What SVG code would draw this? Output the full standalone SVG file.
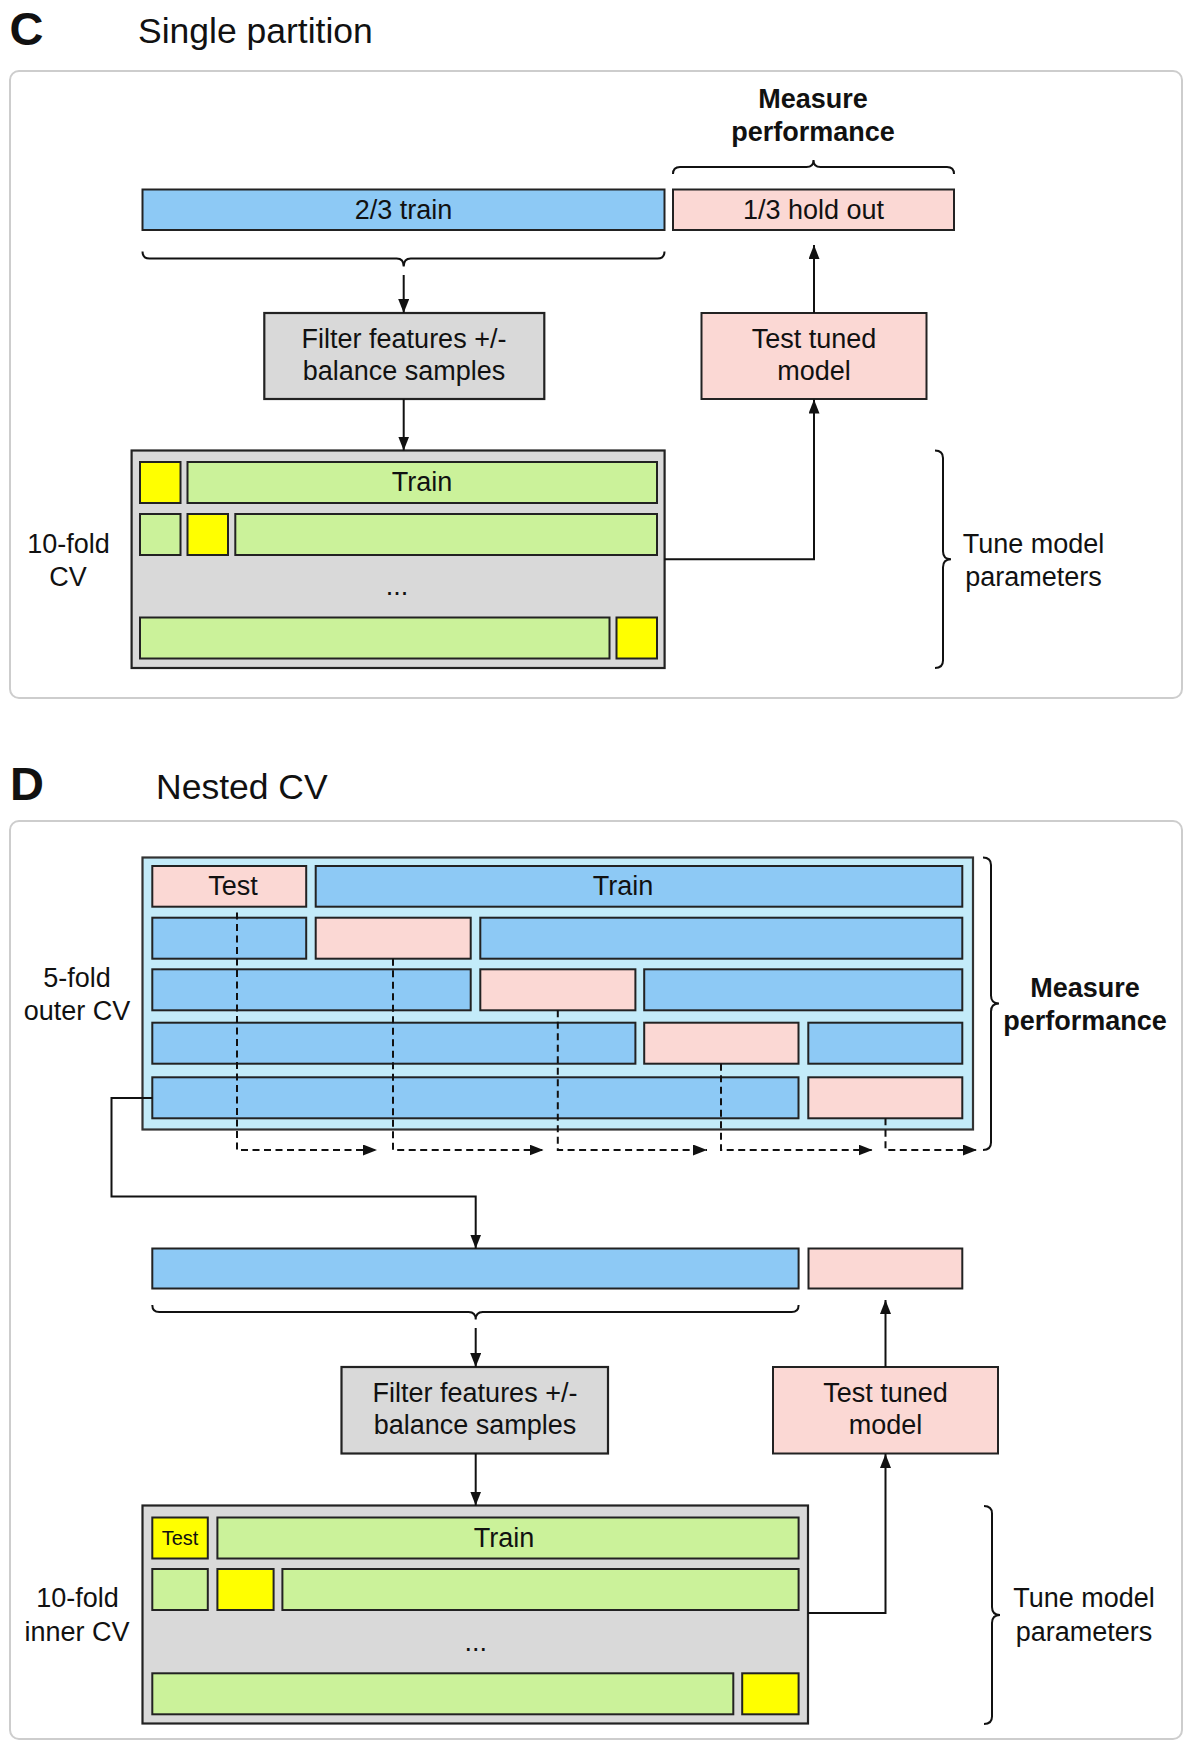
<svg xmlns="http://www.w3.org/2000/svg" width="1192" height="1748" viewBox="0 0 1192 1748">
<style>
text{font-family:"Liberation Sans",Arial,Helvetica,sans-serif;fill:#111;}
.lbl{font-size:27px;text-anchor:middle;}
.ttl{font-size:35.5px;}
.big{font-size:47px;font-weight:bold;}
.bold{font-size:27px;font-weight:bold;text-anchor:middle;}
.sm{font-size:20px;text-anchor:middle;}
.panel{fill:#fff;stroke:#cdcdcd;stroke-width:2;}
.blue{fill:#8DC9F5;stroke:#222;stroke-width:2;}
.pink{fill:#FBD8D4;stroke:#222;stroke-width:2;}
.green{fill:#CBF29A;stroke:#222;stroke-width:2;}
.yellow{fill:#FFFF00;stroke:#222;stroke-width:2;}
.gray{fill:#D9D9D9;stroke:#222;stroke-width:2.2;}
.cyan{fill:#C3EBF9;stroke:#333;stroke-width:2.2;}
.brace{fill:none;stroke:#111;stroke-width:2;}
.conn{fill:none;stroke:#111;stroke-width:2;}
.dash{fill:none;stroke:#111;stroke-width:2;stroke-dasharray:7 4.5;}
</style>
<defs>
<marker id="arr" markerUnits="userSpaceOnUse" markerWidth="15" markerHeight="12" refX="14" refY="5.5" orient="auto">
<path d="M0,0 L14,5.5 L0,11 z" fill="#111"/>
</marker>
</defs>

<!-- Panel C -->
<g id="panelC">
<rect class="panel" x="10" y="71" width="1172" height="627" rx="9"/>
<text class="big" x="9.5" y="45">C</text>
<text class="ttl" x="138" y="43">Single partition</text>
</g>
<g id="measureC">
<text class="bold" x="813" y="108">Measure</text>
<text class="bold" x="813" y="141">performance</text>
</g>
<g id="trainC">
<rect class="blue" x="142.5" y="189.5" width="522" height="40.5"/>
<text class="lbl" x="403.5" y="219">2/3 train</text>
</g>
<g id="holdoutC">
<rect class="pink" x="673" y="189.5" width="281" height="40.5"/>
<text class="lbl" x="813.5" y="219">1/3 hold out</text>
</g>
<g id="filterC">
<rect class="gray" x="264.3" y="313" width="280" height="86"/>
<text class="lbl" x="404" y="347.5">Filter features +/-</text>
<text class="lbl" x="404" y="380">balance samples</text>
</g>
<g id="testtunedC">
<rect class="pink" x="701.5" y="313" width="225" height="86"/>
<text class="lbl" x="814" y="347.5">Test tuned</text>
<text class="lbl" x="814" y="380">model</text>
</g>
<g id="cvC">
<rect class="gray" x="131.6" y="450.5" width="533" height="217.5"/>
<rect class="yellow" x="140" y="462" width="40.5" height="41"/>
<rect class="green" x="187.5" y="462" width="469.5" height="41"/>
<text class="lbl" x="422" y="490.5">Train</text>
<rect class="green" x="140" y="514" width="40.5" height="41"/>
<rect class="yellow" x="187.5" y="514" width="40.5" height="41"/>
<rect class="green" x="235.3" y="514" width="421.7" height="41"/>
<text class="lbl" x="397" y="595">...</text>
<rect class="green" x="140" y="617.5" width="469.5" height="41"/>
<rect class="yellow" x="616.5" y="617.5" width="40.5" height="41"/>
</g>
<g id="cvlabelC">
<text class="lbl" x="68.5" y="552.5">10-fold</text>
<text class="lbl" x="68" y="585.5">CV</text>
</g>
<g id="tuneC">
<text class="lbl" x="1033.5" y="552.5">Tune model</text>
<text class="lbl" x="1033.5" y="585.5">parameters</text>
</g>

<!-- Panel D -->
<g id="panelD">
<rect class="panel" x="10" y="821" width="1172" height="918" rx="9"/>
<text class="big" x="10" y="800">D</text>
<text class="ttl" x="156" y="798.5">Nested CV</text>
</g>
<g id="outerD">
<rect class="cyan" x="142.5" y="857.5" width="830.5" height="272"/>
<rect class="pink" x="152.3" y="866" width="153.9" height="40.7"/>
<rect class="blue" x="315.7" y="866" width="646.6" height="40.7"/>
<rect class="blue" x="152.3" y="917.7" width="153.9" height="41"/>
<rect class="pink" x="315.7" y="917.7" width="155" height="41"/>
<rect class="blue" x="480.3" y="917.7" width="482" height="41"/>
<rect class="blue" x="152.3" y="969.3" width="318.4" height="41"/>
<rect class="pink" x="480.3" y="969.3" width="155.1" height="41"/>
<rect class="blue" x="644.2" y="969.3" width="318.1" height="41"/>
<rect class="blue" x="152.3" y="1022.7" width="483.1" height="41"/>
<rect class="pink" x="644.2" y="1022.7" width="154.3" height="41"/>
<rect class="blue" x="808.3" y="1022.7" width="154" height="41"/>
<rect class="blue" x="152.3" y="1077.3" width="646.2" height="41"/>
<rect class="pink" x="808.3" y="1077.3" width="154" height="41"/>
<text class="lbl" x="233" y="895">Test</text>
<text class="lbl" x="623" y="895">Train</text>
</g>
<g id="outerlabelD">
<text class="lbl" x="77" y="987">5-fold</text>
<text class="lbl" x="77" y="1020">outer CV</text>
</g>
<g id="measureD">
<text class="bold" x="1085" y="997">Measure</text>
<text class="bold" x="1085" y="1030">performance</text>
</g>
<g id="trainbarD">
<rect class="blue" x="152.3" y="1248.5" width="646.3" height="40"/>
</g>
<g id="testbarD">
<rect class="pink" x="808.5" y="1248.5" width="153.8" height="40"/>
</g>
<g id="filterD">
<rect class="gray" x="341.5" y="1367" width="266.5" height="86.5"/>
<text class="lbl" x="475" y="1401.5">Filter features +/-</text>
<text class="lbl" x="475" y="1434">balance samples</text>
</g>
<g id="testtunedD">
<rect class="pink" x="773" y="1367" width="225" height="86.5"/>
<text class="lbl" x="885.5" y="1401.5">Test tuned</text>
<text class="lbl" x="885.5" y="1434">model</text>
</g>
<g id="innerD">
<rect class="gray" x="142.5" y="1505.5" width="665.5" height="218"/>
<rect class="yellow" x="152.3" y="1517.5" width="55.5" height="41"/>
<text class="sm" x="180" y="1545">Test</text>
<rect class="green" x="217.4" y="1517.5" width="581.2" height="41"/>
<text class="lbl" x="504" y="1547">Train</text>
<rect class="green" x="152.3" y="1569" width="55.5" height="41"/>
<rect class="yellow" x="217.4" y="1569" width="56.2" height="41"/>
<rect class="green" x="282.4" y="1569" width="516.2" height="41"/>
<text class="lbl" x="475.7" y="1651">...</text>
<rect class="green" x="152.3" y="1673.3" width="581" height="41"/>
<rect class="yellow" x="742.2" y="1673.3" width="56.4" height="41"/>
</g>
<g id="innerlabelD">
<text class="lbl" x="77.5" y="1607">10-fold</text>
<text class="lbl" x="77" y="1641">inner CV</text>
</g>
<g id="tuneD">
<text class="lbl" x="1084" y="1607">Tune model</text>
<text class="lbl" x="1084" y="1641">parameters</text>
</g>

<!-- Connectors -->
<g id="connectors">
<path class="brace" d="M673,174 Q673,167 680,167 H806.5 Q813.5,167 813.5,160 Q813.5,167 820.5,167 H947 Q954,167 954,174"/>
<path class="brace" d="M142.5,251.5 Q142.5,258.5 149.5,258.5 H396.7 Q403.7,258.5 403.7,266.5 Q403.7,258.5 410.7,258.5 H657.5 Q664.5,258.5 664.5,251.5"/>
<path class="brace" d="M935,450.5 Q943,450.5 943,458 V551.3 Q943,559.3 951,559.3 Q943,559.3 943,567.3 V660.5 Q943,668 935,668"/>
<path class="brace" d="M983,857.5 Q991,857.5 991,865 V995.5 Q991,1003.5 999,1003.5 Q991,1003.5 991,1011.5 V1142.5 Q991,1150 983,1150"/>
<path class="brace" d="M152.3,1305 Q152.3,1312 159.3,1312 H468.7 Q475.7,1312 475.7,1319.5 Q475.7,1312 482.7,1312 H791.6 Q798.6,1312 798.6,1305"/>
<path class="brace" d="M984,1506 Q992,1506 992,1513.5 V1607 Q992,1615 1000,1615 Q992,1615 992,1623 V1716.5 Q992,1724 984,1724"/>
<path class="conn" d="M403.7,275 V313" marker-end="url(#arr)"/>
<path class="conn" d="M403.7,399 V450.5" marker-end="url(#arr)"/>
<path class="conn" d="M814,313 V245" marker-end="url(#arr)"/>
<path class="conn" d="M664.6,559.3 H814 V399.5" marker-end="url(#arr)"/>
<path class="dash" d="M237,912.5 V1150 H377" marker-end="url(#arr)"/>
<path class="dash" d="M393,958.7 V1150 H543.5" marker-end="url(#arr)"/>
<path class="dash" d="M557.8,1010.3 V1150 H707" marker-end="url(#arr)"/>
<path class="dash" d="M721,1063.7 V1150 H872.5" marker-end="url(#arr)"/>
<path class="dash" d="M885.5,1118.3 V1150 H977" marker-end="url(#arr)"/>
<path class="conn" d="M152.3,1098 H111.5 V1196.5 H475.7 V1248.5" marker-end="url(#arr)"/>
<path class="conn" d="M475.7,1328 V1367" marker-end="url(#arr)"/>
<path class="conn" d="M475.7,1453.5 V1505.5" marker-end="url(#arr)"/>
<path class="conn" d="M885.5,1367 V1300" marker-end="url(#arr)"/>
<path class="conn" d="M808,1613 H885.5 V1454" marker-end="url(#arr)"/>
</g>
</svg>
